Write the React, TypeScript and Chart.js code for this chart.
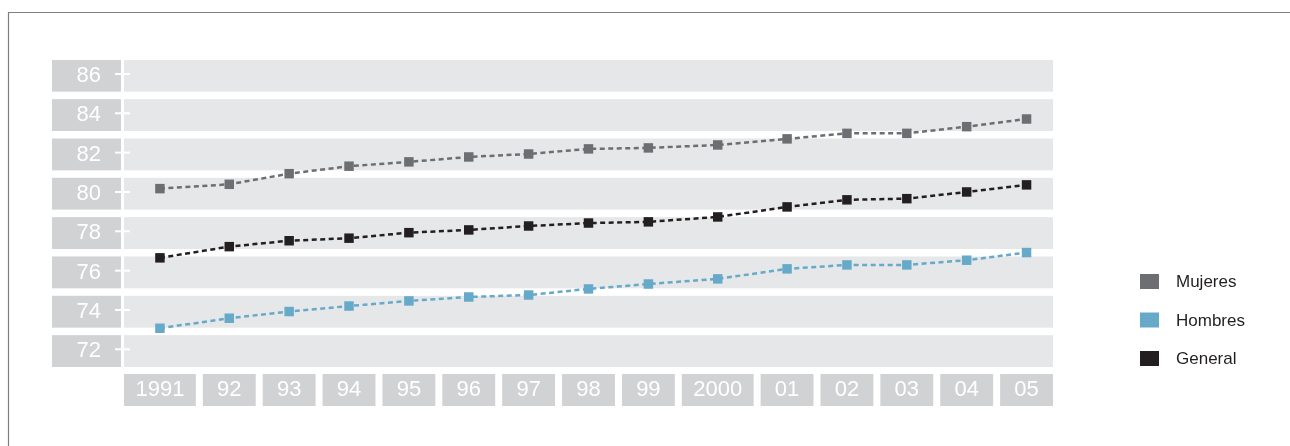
import React, { useEffect, useRef } from "react";
import { Chart, registerables } from "chart.js";

Chart.register(...registerables);

const years = ["1991", "92", "93", "94", "95", "96", "97", "98", "99", "2000", "01", "02", "03", "04", "05"];
const mujeres = [80.17, 80.39, 80.93, 81.31, 81.53, 81.78, 81.93, 82.19, 82.24, 82.39, 82.7, 82.98, 82.98, 83.32, 83.71];
const hombres = [73.07, 73.58, 73.92, 74.2, 74.46, 74.66, 74.76, 75.07, 75.32, 75.58, 76.09, 76.29, 76.29, 76.53, 76.92];
const general = [76.65, 77.22, 77.52, 77.65, 77.93, 78.07, 78.27, 78.42, 78.48, 78.73, 79.24, 79.6, 79.66, 80.0, 80.36];
const yTicks = [72, 74, 76, 78, 80, 82, 84, 86];
const seriesNames = ["Mujeres", "Hombres", "General"];
const seriesColors = ["#6d6e71", "#67a9c8", "#231f20"];

const FONT = "'Liberation Sans', Arial, Helvetica, sans-serif";
const BAND = "#e6e7e8";
const BOX = "#d1d2d4";

// category slot widths (wide slots for 4-character labels)
const slotW = years.map((y) => (y.length >= 4 ? 72 : 53));
const slotGap = 7;
const slotLeft: number[] = [];
{
  let acc = 0;
  for (let i = 0; i < years.length; i++) {
    slotLeft.push(acc);
    acc += slotW[i] + slotGap;
  }
}
const slotCenter = years.map((_, i) => slotLeft[i] + slotW[i] / 2);
const xMax = slotLeft[years.length - 1] + slotW[years.length - 1];

const decorPlugin = {
  id: "decor",
  beforeDraw(chart: any) {
    const ctx = chart.ctx;
    const { left, right, top, bottom } = chart.chartArea;
    const ys = chart.scales.y;
    const xs = chart.scales.x;
    ctx.save();
    // frame
    ctx.strokeStyle = "#7f7f7f";
    ctx.lineWidth = 1.2;
    ctx.beginPath();
    ctx.moveTo(8.5, chart.height);
    ctx.lineTo(8.5, 12.5);
    ctx.lineTo(chart.width, 12.5);
    ctx.stroke();
    // horizontal bands + y label boxes
    yTicks.forEach((v) => {
      const yt = ys.getPixelForValue(Math.min(v + 0.72, ys.max));
      const yb = ys.getPixelForValue(Math.max(v - 0.9, ys.min));
      ctx.fillStyle = BAND;
      ctx.fillRect(left, yt, right - left, yb - yt);
      ctx.fillStyle = BOX;
      ctx.fillRect(ys.left, yt, left - 3 - ys.left, yb - yt);
      const yp = ys.getPixelForValue(v);
      ctx.strokeStyle = "#ffffff";
      ctx.lineWidth = 2;
      ctx.beginPath();
      ctx.moveTo(left - 9, yp);
      ctx.lineTo(left + 6, yp);
      ctx.stroke();
    });
    // x label boxes
    years.forEach((_, i) => {
      const xl = xs.getPixelForValue(slotLeft[i]);
      const xr = xs.getPixelForValue(slotLeft[i] + slotW[i]);
      ctx.fillStyle = BOX;
      ctx.fillRect(xl, bottom + 7, xr - xl, 32);
    });
    ctx.restore();
  },
  afterDraw(chart: any) {
    const ctx = chart.ctx;
    ctx.save();
    const x0 = 1140;
    const y0 = 281.5;
    const step = 38.5;
    chart.data.datasets.forEach((ds: any, i: number) => {
      const cy = y0 + i * step;
      ctx.fillStyle = ds.borderColor;
      ctx.fillRect(x0, cy - 7.5, 19, 15);
      ctx.fillStyle = "#231f20";
      ctx.font = `17px ${FONT}`;
      ctx.textAlign = "left";
      ctx.textBaseline = "middle";
      ctx.fillText(ds.label, x0 + 36, cy + 1);
    });
    ctx.restore();
  },
};

export default function App() {
  const ref = useRef<HTMLCanvasElement | null>(null);
  useEffect(() => {
    if (!ref.current) return;
    const series = [mujeres, hombres, general];
    const chart = new Chart(ref.current, {
      type: "line",
      data: {
        datasets: series.map((vals, k) => ({
          label: seriesNames[k],
          data: vals.map((v, i) => ({ x: slotCenter[i], y: v })),
          borderColor: seriesColors[k],
          backgroundColor: seriesColors[k],
          borderWidth: 2.5,
          borderDash: [5, 3.5],
          tension: 0,
          pointStyle: "rect",
          pointRadius: 6.7,
          pointBorderWidth: 0,
          pointBackgroundColor: seriesColors[k],
          pointBorderColor: seriesColors[k],
          fill: false,
        })),
      },
      options: {
        animation: false,
        responsive: false,
        devicePixelRatio: 1,
        layout: { padding: { left: 52, right: 237, top: 60, bottom: 0 } },
        plugins: { legend: { display: false }, tooltip: { enabled: false } },
        scales: {
          x: {
            type: "linear",
            min: 0,
            max: xMax,
            grid: { display: false, drawTicks: false },
            border: { display: false },
            afterBuildTicks: (s: any) => {
              s.ticks = slotCenter.map((v) => ({ value: v }));
            },
            afterFit: (s: any) => {
              s.height = 79;
            },
            ticks: {
              autoSkip: false,
              maxRotation: 0,
              color: "#ffffff",
              padding: 10,
              font: { size: 22, family: FONT },
              callback: (_v: any, i: number) => years[i],
            },
          },
          y: {
            type: "linear",
            min: 71.1,
            max: 86.71,
            grid: { display: false, drawTicks: false },
            border: { display: false },
            afterBuildTicks: (s: any) => {
              s.ticks = yTicks.map((v) => ({ value: v }));
            },
            afterFit: (s: any) => {
              s.width = 72;
            },
            ticks: {
              color: "#ffffff",
              padding: 23,
              labelOffset: 2,
              font: { size: 22, family: FONT },
            },
          },
        },
      },
      plugins: [decorPlugin],
    });
    return () => chart.destroy();
  }, []);
  return (
    <div style={{ position: "absolute", left: 0, top: 0, width: 1290, height: 446, background: "#fff" }}>
      <canvas ref={ref} width={1290} height={446} style={{ display: "block" }} />
    </div>
  );
}
